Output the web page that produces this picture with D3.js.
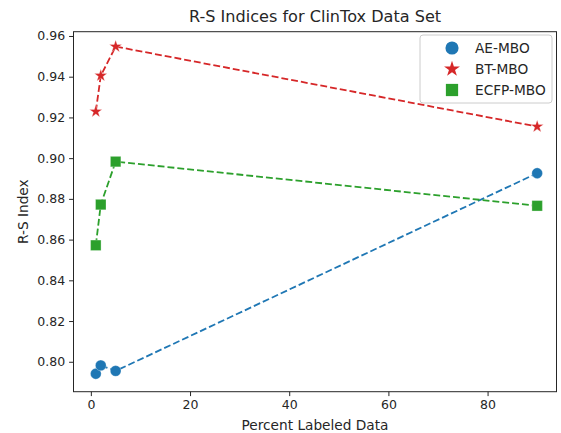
<html lang="en"><head>
<meta http-equiv="Content-Type" content="text/html; charset=UTF-8">
<title>R-S Indices</title>
<script type="text/javascript" src="https://cdn.jsdelivr.net/npm/d3@7"></script>
<style type="text/css">
body { margin: 0; background: #fff; }
text { font-family: "DejaVu Sans", sans-serif; fill: #262626; }
</style>
</head>
<body>
<div id="chart"></div>
<script type="text/javascript">

// values
var percents = [1, 2, 5, 90];
var aeMbo = [0.7941, 0.7982, 0.7955, 0.8926];
var btMbo = [0.9229, 0.9405, 0.9548, 0.9155];
var ecfpMbo = [0.8572, 0.8772, 0.8983, 0.8766];
var seriesNames = ["AE-MBO", "BT-MBO", "ECFP-MBO"];
var xTicks = [0, 20, 40, 60, 80];
var yTicks = [0.80, 0.82, 0.84, 0.86, 0.88, 0.90, 0.92, 0.94, 0.96];

var width = 561;
var height = 433;
// note: "top" is a read-only global in browsers, so use plotTop etc.
var plotLeft = 73.5, plotRight = 556.5, plotTop = 31.7, plotBottom = 391.7;

var series = [
  {name: seriesNames[0], values: aeMbo, color: "#1f77b4", symbol: d3.symbolCircle, size: 92, legendSize: 135},
  {name: seriesNames[1], values: btMbo, color: "#d62728", symbol: d3.symbolStar, size: 50, legendSize: 78},
  {name: seriesNames[2], values: ecfpMbo, color: "#2ca02c", symbol: d3.symbolSquare, size: 110, legendSize: 150}
];

var svg = d3.select("#chart").append("svg")
        .attr("width", width)
        .attr("height", height);

var x = d3.scaleLinear().domain([-3.5, 93.9]).range([plotLeft, plotRight]);
var y = d3.scaleLinear().domain([0.7853, 0.9621]).range([plotBottom, plotTop]);

// axes
svg.append("g")
        .attr("transform", "translate(0," + plotBottom + ")")
        .call(d3.axisBottom(x).tickValues(xTicks).tickSize(4.4).tickPadding(4)
          .tickFormat(d3.format("d")));
svg.append("g")
        .attr("transform", "translate(" + plotLeft + ",0)")
        .call(d3.axisLeft(y).tickValues(yTicks).tickSize(4.4).tickPadding(4)
          .tickFormat(d3.format(".2f")));

svg.selectAll(".domain").remove();
svg.selectAll(".tick line").attr("stroke", "#262626").attr("stroke-width", 1);
svg.selectAll(".tick text")
        .style("font-family", "DejaVu Sans")
        .style("font-size", "12.5px")
        .attr("fill", "#262626");

svg.append("rect")
        .attr("x", plotLeft)
        .attr("y", plotTop)
        .attr("width", plotRight - plotLeft)
        .attr("height", plotBottom - plotTop)
        .attr("fill", "none")
        .attr("stroke", "#262626")
        .attr("stroke-width", 1);

// lines
var line = d3.line()
        .x(function (d, i) { return x(percents[i]); })
        .y(function (d) { return y(d); });

svg.selectAll(".series-line").data(series).enter().append("path")
        .attr("class", "series-line")
        .attr("d", function (d) { return line(d.values); })
        .attr("fill", "none")
        .attr("stroke", function (d) { return d.color; })
        .attr("stroke-width", 1.8)
        .attr("stroke-dasharray", "6.9,3");

// markers
series.forEach(function (s, k) {
  svg.selectAll(".pt-" + k).data(s.values).enter().append("path")
        .attr("class", "pt-" + k)
        .attr("d", d3.symbol().type(s.symbol).size(s.size))
        .attr("transform", function (d, i) {
          return "translate(" + x(percents[i]) + "," + y(d) + ")";
        })
        .attr("fill", s.color)
        .attr("stroke", "#ffffff")
        .attr("stroke-opacity", 0.5)
        .attr("stroke-width", 0.6);
});

// titles
svg.append("text")
        .attr("x", (plotLeft + plotRight) / 2)
        .attr("y", 22)
        .attr("text-anchor", "middle")
        .style("font-size", "16.1px")
        .text("R-S Indices for ClinTox Data Set");

svg.append("text")
        .attr("x", (plotLeft + plotRight) / 2)
        .attr("y", 430)
        .attr("text-anchor", "middle")
        .style("font-size", "13.7px")
        .text("Percent Labeled Data");

svg.append("text")
        .attr("transform", "translate(27.5," + ((plotTop + plotBottom) / 2) + ") rotate(-90)")
        .attr("text-anchor", "middle")
        .style("font-size", "13.7px")
        .text("R-S Index");

// legend
var legend = svg.append("g").attr("transform", "translate(420,35)");
legend.append("rect")
        .attr("width", 132)
        .attr("height", 68)
        .attr("rx", 3)
        .attr("fill", "#ffffff")
        .attr("fill-opacity", 0.8)
        .attr("stroke", "#cccccc")
        .attr("stroke-width", 1);

var item = legend.selectAll(".item").data(series).enter().append("g")
        .attr("transform", function (d, i) { return "translate(0," + (13 + i * 21) + ")"; });
item.append("path")
        .attr("d", function (d) { return d3.symbol().type(d.symbol).size(d.legendSize)(); })
        .attr("transform", "translate(32,0)")
        .attr("fill", function (d) { return d.color; });
item.append("text")
        .attr("x", 55)
        .attr("y", 5)
        .style("font-size", "13.7px")
        .text(function (d) { return d.name; });

</script>
</body></html>
